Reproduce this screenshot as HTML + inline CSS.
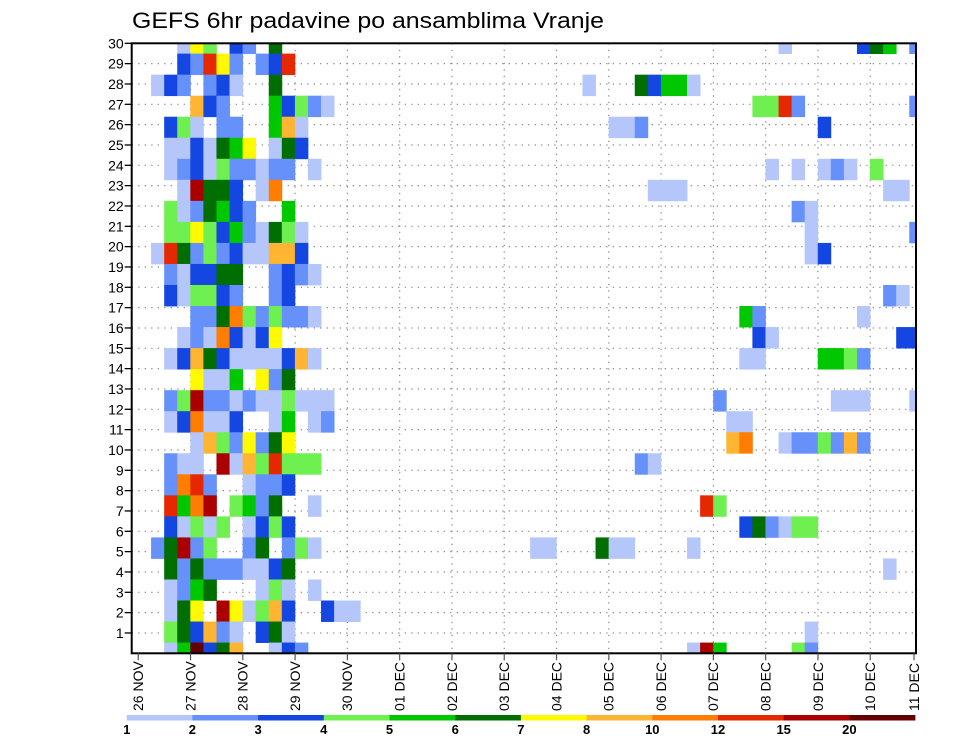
<!DOCTYPE html>
<html><head><meta charset="utf-8"><title>GEFS 6hr padavine po ansamblima Vranje</title>
<style>
html,body{margin:0;padding:0;background:#fff;}
svg{display:block;font-family:"Liberation Sans",sans-serif;}
</style></head>
<body>
<svg id="chart" width="960" height="742" viewBox="0 0 960 742" xmlns="http://www.w3.org/2000/svg">
<text x="132" y="28" font-size="22" textLength="472" lengthAdjust="spacingAndGlyphs" fill="#000">GEFS 6hr padavine po ansamblima Vranje</text>
<defs><clipPath id="plotclip"><rect x="131.7" y="43.3" width="784.3" height="610"/></clipPath></defs>
<g id="grid"></g>
<g id="cells" clip-path="url(#plotclip)"></g>
<g id="axes"></g>
<g id="legend"></g>
</svg>
<script>
// ---- data ----
const timeLabels = ["26 NOV","27 NOV","28 NOV","29 NOV","30 NOV","01 DEC","02 DEC","03 DEC","04 DEC","05 DEC","06 DEC","07 DEC","08 DEC","09 DEC","10 DEC","11 DEC"];
const memberTicks = [1,2,3,4,5,6,7,8,9,10,11,12,13,14,15,16,17,18,19,20,21,22,23,24,25,26,27,28,29,30];
const legendLevels = [1,2,3,4,5,6,7,8,10,12,15,20];
const legendColors = ["#b4c6fa","#6690fa","#1446e1","#6ef050","#00c800","#006e00","#fffa00","#ffb432","#ff7d00","#e62800","#aa0000","#640000"];
// precip rows top->bottom; each entry [6-hourly time index, mm]
const precip = [
[[4,1.5],[5,7.5],[6,4.5],[8,3.5],[9,2.5],[11,6.5],[50,1.5],[56,3.5],[57,6.5],[58,5.5],[60,2.5]],
[[4,3.5],[5,2.5],[6,13.5],[7,7.5],[8,2.5],[10,2.5],[11,3.5],[12,13.5]],
[[2,1.5],[3,3.5],[4,2.5],[6,2.5],[7,3.5],[8,1.5],[11,6.5],[35,1.5],[39,6.5],[40,3.5],[41,5.5],[42,5.5],[43,1.5]],
[[5,9],[6,3.5],[7,2.5],[11,5.5],[12,3.5],[13,4.5],[14,2.5],[15,1.5],[48,4.5],[49,4.5],[50,13.5],[51,2.5],[60,2.5]],
[[3,3.5],[4,4.5],[5,1.5],[7,2.5],[8,2.5],[11,5.5],[12,9],[13,1.5],[37,1.5],[38,1.5],[39,2.5],[53,3.5]],
[[3,1.5],[4,1.5],[5,3.5],[6,1.5],[7,6.5],[8,5.5],[9,7.5],[11,1.5],[12,6.5],[13,3.5]],
[[3,1.5],[4,2.5],[5,3.5],[6,1.5],[7,4.5],[8,2.5],[9,2.5],[10,1.5],[11,2.5],[12,2.5],[14,1.5],[49,1.5],[51,1.5],[53,1.5],[54,2.5],[55,1.5],[57,4.5]],
[[4,1.5],[5,17.5],[6,6.5],[7,6.5],[8,3.5],[10,1.5],[11,11],[40,1.5],[41,1.5],[42,1.5],[58,1.5],[59,1.5]],
[[3,4.5],[4,1.5],[5,2.5],[6,6.5],[7,5.5],[8,3.5],[9,2.5],[12,5.5],[51,2.5],[52,1.5]],
[[3,4.5],[4,4.5],[5,7.5],[6,4.5],[7,3.5],[8,5.5],[9,2.5],[10,1.5],[11,6.5],[12,4.5],[13,1.5],[52,1.5],[60,2.5]],
[[2,1.5],[3,13.5],[4,6.5],[5,2.5],[6,4.5],[7,2.5],[8,3.5],[9,1.5],[10,1.5],[11,9],[12,9],[13,3.5],[52,1.5],[53,3.5]],
[[3,2.5],[4,1.5],[5,3.5],[6,3.5],[7,6.5],[8,6.5],[11,2.5],[12,3.5],[13,2.5],[14,1.5]],
[[3,3.5],[4,1.5],[5,4.5],[6,4.5],[7,3.5],[8,2.5],[11,2.5],[12,3.5],[58,2.5],[59,1.5]],
[[5,2.5],[6,2.5],[7,6.5],[8,11],[9,4.5],[10,2.5],[11,4.5],[12,2.5],[13,2.5],[14,1.5],[47,5.5],[48,2.5],[56,1.5]],
[[4,1.5],[5,2.5],[6,1.5],[7,11],[8,3.5],[9,1.5],[10,3.5],[11,7.5],[48,3.5],[49,1.5],[59,3.5],[60,3.5]],
[[3,1.5],[4,3.5],[5,9],[6,6.5],[7,3.5],[8,1.5],[9,1.5],[10,1.5],[11,1.5],[12,3.5],[13,9],[14,1.5],[47,1.5],[48,1.5],[53,5.5],[54,5.5],[55,4.5],[56,2.5]],
[[5,7.5],[6,1.5],[7,1.5],[8,5.5],[10,7.5],[11,2.5],[12,6.5]],
[[3,2.5],[4,4.5],[5,17.5],[6,2.5],[7,2.5],[8,1.5],[9,2.5],[10,1.5],[11,1.5],[12,4.5],[13,1.5],[14,1.5],[15,1.5],[45,2.5],[54,1.5],[55,1.5],[56,1.5],[60,1.5]],
[[3,1.5],[4,3.5],[5,11],[6,1.5],[7,1.5],[8,3.5],[11,1.5],[12,5.5],[14,1.5],[15,2.5],[46,1.5],[47,1.5]],
[[5,1.5],[6,9],[7,4.5],[8,2.5],[9,7.5],[10,2.5],[11,6.5],[12,7.5],[46,9],[47,11],[50,1.5],[51,2.5],[52,2.5],[53,4.5],[54,2.5],[55,9],[56,2.5]],
[[3,2.5],[4,1.5],[5,1.5],[7,17.5],[8,1.5],[9,9],[10,4.5],[11,13.5],[12,4.5],[13,4.5],[14,4.5],[39,2.5],[40,1.5]],
[[3,2.5],[4,11],[5,13.5],[6,2.5],[9,1.5],[10,2.5],[11,2.5],[12,3.5]],
[[3,13.5],[4,5.5],[5,11],[6,17.5],[8,4.5],[9,5.5],[10,2.5],[11,6.5],[14,1.5],[44,13.5],[45,4.5]],
[[3,3.5],[4,1.5],[5,4.5],[6,1.5],[7,4.5],[9,1.5],[10,3.5],[11,4.5],[12,3.5],[47,3.5],[48,6.5],[49,2.5],[50,1.5],[51,4.5],[52,4.5]],
[[2,2.5],[3,6.5],[4,17.5],[5,2.5],[6,4.5],[9,2.5],[10,6.5],[12,2.5],[13,4.5],[14,1.5],[31,1.5],[32,1.5],[36,6.5],[37,1.5],[38,1.5],[43,1.5]],
[[3,6.5],[4,2.5],[5,6.5],[6,2.5],[7,2.5],[8,2.5],[9,1.5],[10,1.5],[11,3.5],[12,6.5],[58,1.5]],
[[3,1.5],[4,2.5],[5,5.5],[6,6.5],[10,1.5],[11,4.5],[12,1.5],[14,1.5]],
[[3,1.5],[4,6.5],[5,7.5],[7,17.5],[8,7.5],[9,1.5],[10,4.5],[11,9],[12,3.5],[15,3.5],[16,1.5],[17,1.5]],
[[3,4.5],[4,6.5],[5,3.5],[6,9],[7,2.5],[8,1.5],[10,3.5],[11,6.5],[12,1.5],[52,1.5]],
[[3,1.5],[4,5.5],[5,25],[6,3.5],[7,6.5],[8,9],[11,1.5],[12,3.5],[13,2.5],[43,1.5],[44,17.5],[45,5.5],[51,4.5],[52,2.5]]
];

// ---- layout / scales ----
const NS = "http://www.w3.org/2000/svg";
const PL = 131.7, PR = 916, PT = 43.3, PB = 653.3;
const nTimes = 61;
const cw = (PR - PL) / (nTimes - 1);
const rh = (PB - PT) / (precip.length - 1);
function xCell(c){ return PL + c * cw; }
function yCell(k){ return PT + k * rh; }
function xDay(j){ return PL + cw / 2 + j * 4 * cw; }
function yTick(m){ return PT + (30 - m) * (PB - PT) / 30; }
function colorFor(v){
  let idx = -1;
  for (let i = 0; i < legendLevels.length; i++) if (v >= legendLevels[i]) idx = i;
  return idx < 0 ? null : legendColors[idx];
}
function mk(tag, attrs, parent){
  const e = document.createElementNS(NS, tag);
  for (const k in attrs) e.setAttribute(k, attrs[k]);
  parent.appendChild(e);
  return e;
}
const gGrid = document.getElementById("grid");
const gCells = document.getElementById("cells");
const gAxes = document.getElementById("axes");
const gLeg = document.getElementById("legend");

// grid lines
for (let m = 1; m < 30; m++) {
  const l = mk("line", {x1: PL, x2: PR, y1: yTick(m), y2: yTick(m), stroke: "#8c8c8c", "stroke-width": 1.2, "stroke-dasharray": "1.3,5.2"}, gGrid);
  
  
}
for (let j = 1; j < timeLabels.length - 1; j++) {
  const l = mk("line", {x1: xDay(j), x2: xDay(j), y1: PT, y2: PB, stroke: "#8c8c8c", "stroke-width": 1.2, "stroke-dasharray": "1.3,5.2"}, gGrid);
  
  
}

// cells
precip.forEach((row, k) => {
  row.forEach(([c, v]) => {
    const col = colorFor(v);
    if (!col) return;
    const r = mk("rect", {x: xCell(c) - cw/2 - 0.2, y: yCell(k) - rh/2 - 0.2, width: cw + 0.4, height: rh + 0.4, fill: col}, gCells);
    
    
  });
});

// frame
const frame = mk("rect", {x: PL, y: PT, width: PR - PL, height: PB - PT, fill: "none", stroke: "#000", "stroke-width": 2}, gAxes);



// y ticks & labels
memberTicks.forEach(m => {
  const t = mk("line", {x1: PL - 7, x2: PL, y1: yTick(m), y2: yTick(m), stroke: "#000", "stroke-width": 1.3}, gAxes);
  
  
  const tx = mk("text", {x: PL - 8, y: yTick(m) + 5, "font-size": 14, "text-anchor": "end", fill: "#000"}, gAxes);
  tx.textContent = String(m);
  
  
});

// x ticks & labels
timeLabels.forEach((lab, j) => {
  let x = xDay(j);
  if (j === timeLabels.length - 1) x = PR - 2;
  const t = mk("line", {x1: x, x2: x, y1: PB, y2: PB + 7, stroke: "#555", "stroke-width": 1.2}, gAxes);
  
  
  const tx = mk("text", {transform: "translate(" + (x + 4.8) + ",711) rotate(-90)", "font-size": 14, fill: "#000"}, gAxes);
  tx.textContent = lab;
  
  
});

// legend
const LX = 126.7, LW = 65.7, LY = 715, LH = 5.5;
legendColors.forEach((c, i) => {
  const r = mk("rect", {x: LX + i * LW, y: LY, width: LW + 0.3, height: LH, fill: c}, gLeg);
  
  
});
legendLevels.forEach((v, i) => {
  const tx = mk("text", {x: LX + i * LW, y: 734, "font-size": 13, "font-weight": "bold", "text-anchor": "middle", fill: "#000"}, gLeg);
  tx.textContent = String(v);
  
  
});
</script>
</body></html>
